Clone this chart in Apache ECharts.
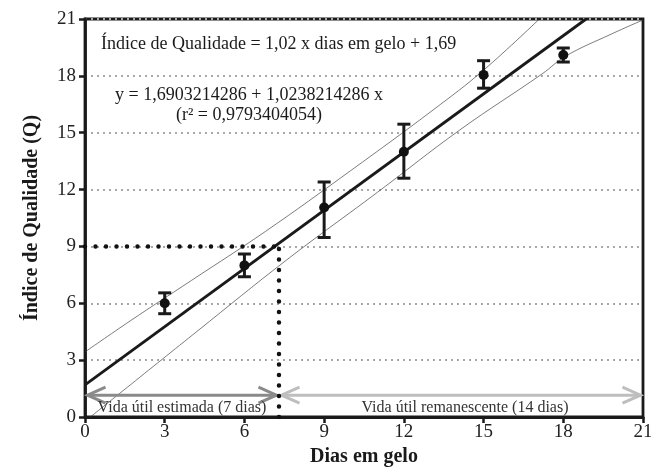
<!DOCTYPE html>
<html><head><meta charset="utf-8">
<script src="https://cdn.jsdelivr.net/npm/echarts@6/dist/echarts.min.js"></script>
<style>html,body{margin:0;padding:0;background:#fff}#c{width:651px;height:467px}</style>
</head><body><div id="c"></div>
<script>
// ---- data ----
const days      = [3, 6, 9, 12, 15, 18];
const qMean     = [6.0, 8.0, 11.05, 14.0, 18.05, 19.1];
const qLow      = [5.45, 7.4, 9.47, 12.6, 17.35, 18.73];
const qHigh     = [6.55, 8.6, 12.4, 15.45, 18.8, 19.47];
const fitLine   = [[0, 1.69], [18.86, 21]];
const upperBand = [[0, 3.43], [1.7, 5.07], [4, 7.2], [6.8, 9.8], [10, 13.0], [13.1, 16.2], [15, 18.3], [17.1, 21]];
const lowerBand = [[0.2, 0], [4.2, 4.5], [7.6, 8.3], [11, 11.85], [14.1, 15.14], [17.2, 18.1], [18.1, 19.05], [19.8, 20.2], [21, 20.95]];
const cutDay    = 7.3;
const cutQ      = 9;
const hLine     = [[0, cutQ], [cutDay, cutQ]];
const vLine     = [[cutDay, 0], [cutDay, cutQ]];
const arrows    = [[0, cutDay, 1.15, '#8a8a8a'], [cutDay, 21, 1.15, '#bebebe']];
const xTicks    = [0, 3, 6, 9, 12, 15, 18, 21];
const yTicks    = [0, 3, 6, 9, 12, 15, 18, 21];

const serif = '"Liberation Serif", "DejaVu Serif", serif';
const chart = echarts.init(document.getElementById('c'));

const errData = days.map((d, i) => [d, qLow[i], qHigh[i]]);

chart.setOption({
  animation: false,
  backgroundColor: '#fff',
  grid: { left: 85, right: 8, top: 19, bottom: 50, show: true, borderColor: '#1a1a1a', borderWidth: 2.8,
          containLabel: false, outerBoundsMode: 'none' },
  xAxis: {
    type: 'value', min: 0, max: 21, interval: 3,
    name: 'Dias em gelo', nameLocation: 'middle', nameGap: 28,
    nameTextStyle: { fontFamily: serif, fontWeight: 'bold', fontSize: 20, color: '#1a1a1a' },
    axisLine: { show: true, lineStyle: { color: '#1a1a1a', width: 2.8 } },
    axisTick: { show: true, length: 6, lineStyle: { color: '#1a1a1a', width: 2.5 } },
    axisLabel: { fontFamily: serif, fontSize: 19, color: '#222', margin: 6,
      formatter: v => xTicks.includes(v) ? String(v) : '' },
    splitLine: { show: false }
  },
  yAxis: {
    type: 'value', min: 0, max: 21, interval: 3,
    name: 'Índice de Qualidade (Q)', nameLocation: 'middle', nameGap: 43, nameRotate: 90,
    nameTextStyle: { fontFamily: serif, fontWeight: 'bold', fontSize: 20, color: '#1a1a1a' },
    axisLine: { show: true, lineStyle: { color: '#1a1a1a', width: 2.8 } },
    axisTick: { show: true, length: 6, lineStyle: { color: '#1a1a1a', width: 2.5 } },
    axisLabel: { fontFamily: serif, fontSize: 19, color: '#222', margin: 9,
      formatter: v => yTicks.includes(v) ? String(v) : '' },
    splitLine: { show: true, lineStyle: { color: '#a8a8a8', width: 2, type: [2, 4] } }
  },
  series: [
    { type: 'line', data: upperBand, smooth: 0.4, symbol: 'none', clip: true,
      lineStyle: { color: '#444', width: 0.7 }, z: 2 },
    { type: 'line', data: lowerBand, smooth: 0.4, symbol: 'none', clip: true,
      lineStyle: { color: '#444', width: 0.7 }, z: 2 },
    { type: 'line', data: fitLine, symbol: 'none', clip: true,
      lineStyle: { color: '#1a1a1a', width: 2.8 }, z: 3 },
    { type: 'line', data: hLine, symbol: 'none',
      lineStyle: { color: '#111', width: 4.5, type: [0, 10.5], cap: 'round' }, z: 4 },
    { type: 'line', data: vLine, symbol: 'none',
      lineStyle: { color: '#111', width: 4.5, type: [0, 10.5], cap: 'round' }, z: 4 },
    { type: 'custom', data: errData, z: 5,
      renderItem: (params, api) => {
        const x = api.value(0);
        const lo = api.coord([x, api.value(1)]);
        const hi = api.coord([x, api.value(2)]);
        const w = 6.5;
        const st = { stroke: '#1a1a1a', lineWidth: 3, fill: null };
        return { type: 'group', children: [
          { type: 'line', shape: { x1: lo[0], y1: lo[1], x2: hi[0], y2: hi[1] }, style: st },
          { type: 'line', shape: { x1: lo[0] - w, y1: lo[1], x2: lo[0] + w, y2: lo[1] }, style: st },
          { type: 'line', shape: { x1: hi[0] - w, y1: hi[1], x2: hi[0] + w, y2: hi[1] }, style: st }
        ]};
      }
    },
    { type: 'scatter', data: days.map((d, i) => [d, qMean[i]]), symbol: 'circle', symbolSize: 10,
      itemStyle: { color: '#111', opacity: 1 }, z: 6 },
    { type: 'custom', data: arrows.map(a => [a[0], a[1], a[2]]), z: 4, clip: false,
      renderItem: (params, api) => {
        const col = arrows[params.dataIndex][3];
        const y = api.value(2);
        const p1 = api.coord([api.value(0), y]);
        const p2 = api.coord([api.value(1), y]);
        const g = 2.5, L = 18, H = 8;
        const a = [p1[0] + g, p1[1]], b = [p2[0] - g, p2[1]];
        const st = { stroke: col, lineWidth: 3, fill: null };
        return { type: 'group', children: [
          { type: 'line', shape: { x1: a[0], y1: a[1], x2: b[0], y2: b[1] }, style: st },
          { type: 'polyline', shape: { points: [[a[0] + L, a[1] - H], a, [a[0] + L, a[1] + H]] }, style: st },
          { type: 'polyline', shape: { points: [[b[0] - L, b[1] - H], b, [b[0] - L, b[1] + H]] }, style: st }
        ]};
      }
    }
  ],
  graphic: [
    { type: 'text', x: 101, y: 44, z: 11,
      style: { text: 'Índice de Qualidade = 1,02 x dias em gelo + 1,69', font: '18px ' + serif, fill: '#1a1a1a', verticalAlign: 'middle' } },
    { type: 'text', x: 249, y: 95, z: 11,
      style: { text: 'y = 1,6903214286 + 1,0238214286 x', font: '18px ' + serif, fill: '#1a1a1a', align: 'center', verticalAlign: 'middle' } },
    { type: 'text', x: 249, y: 115, z: 11,
      style: { text: '(r² = 0,9793404054)', font: '18px ' + serif, fill: '#1a1a1a', align: 'center', verticalAlign: 'middle' } },
    { type: 'text', x: 182, y: 408, z: 11,
      style: { text: 'Vida útil estimada (7 dias)', font: '16px ' + serif, fill: '#333', align: 'center', verticalAlign: 'middle' } },
    { type: 'text', x: 465, y: 408, z: 11,
      style: { text: 'Vida útil remanescente (14 dias)', font: '16px ' + serif, fill: '#333', align: 'center', verticalAlign: 'middle' } }
  ]
});
</script></body></html>
